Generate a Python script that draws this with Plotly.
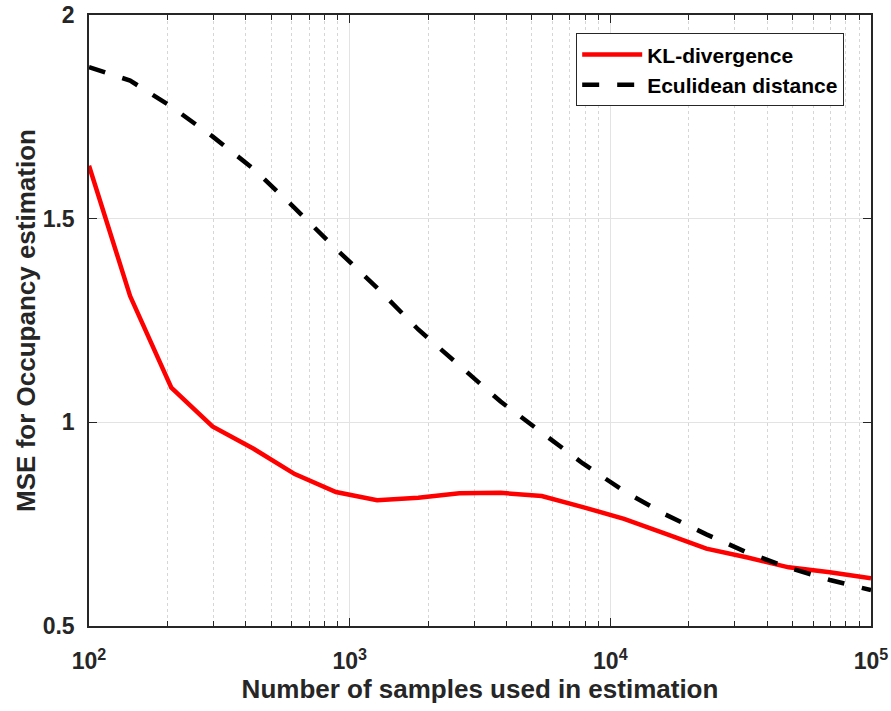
import plotly.graph_objects as go

# Sample counts (log-spaced from 1e2 to 1e5)
samples = [100, 143.8, 206.9, 297.6, 428.1, 615.8, 885.9, 1274.3, 1833.0, 2636.7,
           3792.7, 5455.6, 7847.6, 11288.4, 16237.8, 23357.2, 33598.2, 48329.3,
           69519.3, 100000]

# MSE for occupancy estimation
mse_kl = [1.63, 1.31, 1.085, 0.99, 0.935, 0.873, 0.829, 0.809, 0.815, 0.826,
          0.827, 0.819, 0.792, 0.763, 0.727, 0.690, 0.668, 0.644, 0.632, 0.617]
mse_euclid = [1.872, 1.839, 1.775, 1.702, 1.622, 1.526, 1.426, 1.330, 1.228, 1.139,
              1.051, 0.975, 0.899, 0.831, 0.774, 0.725, 0.680, 0.643, 0.613, 0.588]

x_ticks = [100, 1000, 10000, 100000]
x_ticktext = ["<b>10<sup>2</sup></b>", "<b>10<sup>3</sup></b>",
              "<b>10<sup>4</sup></b>", "<b>10<sup>5</sup></b>"]
y_ticks = [0.5, 1, 1.5, 2]
y_ticktext = ["<b>0.5</b>", "<b>1</b>", "<b>1.5</b>", "<b>2</b>"]

axis_color = "#262626"
font_family = "Liberation Sans, Arial, sans-serif"
tick_font = dict(size=23, color=axis_color, family=font_family, weight="bold")
title_font = dict(size=26, color=axis_color, family=font_family, weight="bold")

fig = go.Figure()
fig.add_trace(go.Scatter(
    x=samples, y=mse_kl, mode="lines", name="KL-divergence",
    line=dict(color="#ff0000", width=4.5),
))
fig.add_trace(go.Scatter(
    x=samples, y=mse_euclid, mode="lines", name="Eculidean distance",
    line=dict(color="#000000", width=4.5, dash="17px,18px"),
))

fig.update_layout(
    width=891, height=711,
    margin=dict(l=89, r=20, t=15, b=85, autoexpand=False),
    paper_bgcolor="white", plot_bgcolor="white",
    font=dict(family=font_family, color=axis_color, weight="bold"),
    showlegend=True,
    legend=dict(
        x=0.623, y=0.970, xanchor="left", yanchor="top",
        bgcolor="white", bordercolor=axis_color, borderwidth=1,
        font=dict(size=21, color="#000000", family=font_family, weight="bold"),
        tracegroupgap=0, itemwidth=60,
    ),
)

fig.update_xaxes(
    type="log", range=[2, 5], automargin=False,
    tickvals=x_ticks, ticktext=x_ticktext, tickfont=tick_font,
    ticks="inside", ticklen=8, tickwidth=1, tickcolor=axis_color,
    ticklabelstandoff=14, ticklabeloverflow="allow",
    showline=True, linecolor=axis_color, linewidth=1.5, mirror="ticks",
    showgrid=True, gridcolor="#e3e3e3", gridwidth=1,
    minor=dict(dtick="D1", ticks="inside", ticklen=5, tickcolor=axis_color,
               showgrid=True, gridcolor="#d6d6d6", griddash="dot", gridwidth=1),
    zeroline=False,
    title=dict(text="Number of samples used in estimation", font=title_font, standoff=4),
)

fig.update_yaxes(
    range=[0.5, 2], automargin=False,
    tickvals=y_ticks, ticktext=y_ticktext, tickfont=tick_font,
    ticks="inside", ticklen=8, tickwidth=1, tickcolor=axis_color,
    ticklabelstandoff=8, ticklabeloverflow="allow",
    showline=True, linecolor=axis_color, linewidth=1.5, mirror="ticks",
    showgrid=True, gridcolor="#e3e3e3", gridwidth=1,
    zeroline=False,
    title=dict(text="MSE for Occupancy estimation", font=title_font, standoff=0),
)

fig.write_html("out.html")
